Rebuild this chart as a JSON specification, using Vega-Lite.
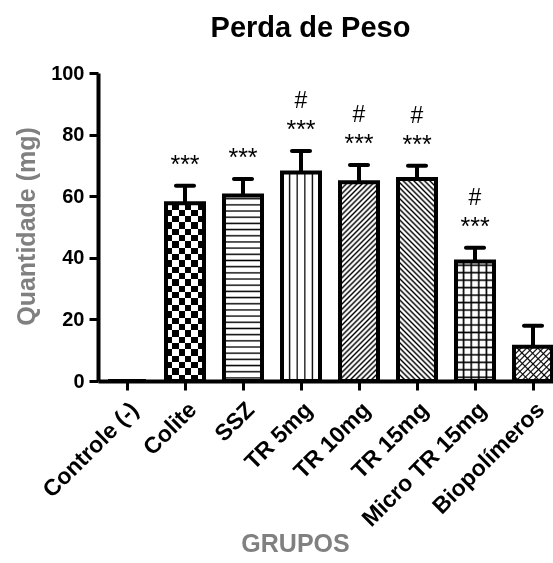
{
"$schema":"https://vega.github.io/schema/vega-lite/v6.json",
"width":455,"height":308,
"autosize":{"type":"none"},
"padding":{"left":98,"top":73,"right":0,"bottom":182},
"background":"#ffffff",
"title":{"text":"Perda de Peso","font":"Liberation Sans","fontSize":29,"fontWeight":"bold","color":"#000","frame":"group","anchor":"middle","dx":-15,"offset":20},
"data":{"values":[
{"group":"Controle (-)","value":0,"err":null,"stars":"","hash":""},
{"group":"Colite","value":57.7,"err":63.4,"stars":"***","hash":""},
{"group":"SSZ","value":60.2,"err":65.6,"stars":"***","hash":""},
{"group":"TR 5mg","value":67.7,"err":74.7,"stars":"***","hash":"#"},
{"group":"TR 10mg","value":64.5,"err":70.1,"stars":"***","hash":"#"},
{"group":"TR 15mg","value":65.6,"err":69.9,"stars":"***","hash":"#"},
{"group":"Micro TR 15mg","value":38.8,"err":43.3,"stars":"***","hash":"#"},
{"group":"Biopolímeros","value":11.1,"err":17.9,"stars":"","hash":""}
]},
"encoding":{
"x":{"field":"group","type":"nominal","sort":null,"title":"GRUPOS","scale":{"domain":["Controle (-)","Colite","SSZ","TR 5mg","TR 10mg","TR 15mg","Micro TR 15mg","Biopolímeros"],"paddingInner":0.345,"paddingOuter":0.0948,"align":0.91}},
"y":{"field":"value","type":"quantitative","title":"Quantidade (mg)","scale":{"domain":[0,100],"nice":false},"axis":{"values":[0,20,40,60,80,100]}}
},
"layer":[
{"transform":[{"filter":"datum.group==='Colite'"}],"mark":{"type":"bar","strokeWidth":0,"fill":{"gradient":"linear","x1":0,"y1":0,"x2":0,"y2":1,"stops":[{"offset":0,"color":"#000"},{"offset":0.0357,"color":"#000"},{"offset":0.0357,"color":"#fff"},{"offset":0.0714,"color":"#fff"},{"offset":0.0714,"color":"#000"},{"offset":0.1071,"color":"#000"},{"offset":0.1071,"color":"#fff"},{"offset":0.1429,"color":"#fff"},{"offset":0.1429,"color":"#000"},{"offset":0.1786,"color":"#000"},{"offset":0.1786,"color":"#fff"},{"offset":0.2143,"color":"#fff"},{"offset":0.2143,"color":"#000"},{"offset":0.25,"color":"#000"},{"offset":0.25,"color":"#fff"},{"offset":0.2857,"color":"#fff"},{"offset":0.2857,"color":"#000"},{"offset":0.3214,"color":"#000"},{"offset":0.3214,"color":"#fff"},{"offset":0.3571,"color":"#fff"},{"offset":0.3571,"color":"#000"},{"offset":0.3929,"color":"#000"},{"offset":0.3929,"color":"#fff"},{"offset":0.4286,"color":"#fff"},{"offset":0.4286,"color":"#000"},{"offset":0.4643,"color":"#000"},{"offset":0.4643,"color":"#fff"},{"offset":0.5,"color":"#fff"},{"offset":0.5,"color":"#000"},{"offset":0.5357,"color":"#000"},{"offset":0.5357,"color":"#fff"},{"offset":0.5714,"color":"#fff"},{"offset":0.5714,"color":"#000"},{"offset":0.6071,"color":"#000"},{"offset":0.6071,"color":"#fff"},{"offset":0.6429,"color":"#fff"},{"offset":0.6429,"color":"#000"},{"offset":0.6786,"color":"#000"},{"offset":0.6786,"color":"#fff"},{"offset":0.7143,"color":"#fff"},{"offset":0.7143,"color":"#000"},{"offset":0.75,"color":"#000"},{"offset":0.75,"color":"#fff"},{"offset":0.7857,"color":"#fff"},{"offset":0.7857,"color":"#000"},{"offset":0.8214,"color":"#000"},{"offset":0.8214,"color":"#fff"},{"offset":0.8571,"color":"#fff"},{"offset":0.8571,"color":"#000"},{"offset":0.8929,"color":"#000"},{"offset":0.8929,"color":"#fff"},{"offset":0.9286,"color":"#fff"},{"offset":0.9286,"color":"#000"},{"offset":0.9643,"color":"#000"},{"offset":0.9643,"color":"#fff"},{"offset":1,"color":"#fff"}]}}},
{"transform":[{"filter":"datum.group==='Colite'"}],"mark":{"type":"bar","strokeWidth":0,"blend":"difference","fill":{"gradient":"linear","x1":0,"y1":0,"x2":1,"y2":0,"stops":[{"offset":0,"color":"#fff"},{"offset":0.1667,"color":"#fff"},{"offset":0.1667,"color":"#000"},{"offset":0.3333,"color":"#000"},{"offset":0.3333,"color":"#fff"},{"offset":0.5,"color":"#fff"},{"offset":0.5,"color":"#000"},{"offset":0.6667,"color":"#000"},{"offset":0.6667,"color":"#fff"},{"offset":0.8333,"color":"#fff"},{"offset":0.8333,"color":"#000"},{"offset":1,"color":"#000"}]}}},
{"transform":[{"filter":"datum.group==='SSZ'"}],"mark":{"type":"bar","strokeWidth":0,"fill":{"gradient":"linear","x1":0,"y1":0,"x2":0,"y2":1,"stops":[{"offset":0.0091,"color":"#fff"},{"offset":0.0167,"color":"#000"},{"offset":0.0243,"color":"#fff"},{"offset":0.0424,"color":"#fff"},{"offset":0.05,"color":"#000"},{"offset":0.0576,"color":"#fff"},{"offset":0.0757,"color":"#fff"},{"offset":0.0833,"color":"#000"},{"offset":0.0909,"color":"#fff"},{"offset":0.1091,"color":"#fff"},{"offset":0.1167,"color":"#000"},{"offset":0.1243,"color":"#fff"},{"offset":0.1424,"color":"#fff"},{"offset":0.15,"color":"#000"},{"offset":0.1576,"color":"#fff"},{"offset":0.1757,"color":"#fff"},{"offset":0.1833,"color":"#000"},{"offset":0.1909,"color":"#fff"},{"offset":0.2091,"color":"#fff"},{"offset":0.2167,"color":"#000"},{"offset":0.2243,"color":"#fff"},{"offset":0.2424,"color":"#fff"},{"offset":0.25,"color":"#000"},{"offset":0.2576,"color":"#fff"},{"offset":0.2757,"color":"#fff"},{"offset":0.2833,"color":"#000"},{"offset":0.2909,"color":"#fff"},{"offset":0.3091,"color":"#fff"},{"offset":0.3167,"color":"#000"},{"offset":0.3243,"color":"#fff"},{"offset":0.3424,"color":"#fff"},{"offset":0.35,"color":"#000"},{"offset":0.3576,"color":"#fff"},{"offset":0.3757,"color":"#fff"},{"offset":0.3833,"color":"#000"},{"offset":0.3909,"color":"#fff"},{"offset":0.4091,"color":"#fff"},{"offset":0.4167,"color":"#000"},{"offset":0.4243,"color":"#fff"},{"offset":0.4424,"color":"#fff"},{"offset":0.45,"color":"#000"},{"offset":0.4576,"color":"#fff"},{"offset":0.4757,"color":"#fff"},{"offset":0.4833,"color":"#000"},{"offset":0.4909,"color":"#fff"},{"offset":0.5091,"color":"#fff"},{"offset":0.5167,"color":"#000"},{"offset":0.5243,"color":"#fff"},{"offset":0.5424,"color":"#fff"},{"offset":0.55,"color":"#000"},{"offset":0.5576,"color":"#fff"},{"offset":0.5757,"color":"#fff"},{"offset":0.5833,"color":"#000"},{"offset":0.5909,"color":"#fff"},{"offset":0.6091,"color":"#fff"},{"offset":0.6167,"color":"#000"},{"offset":0.6243,"color":"#fff"},{"offset":0.6424,"color":"#fff"},{"offset":0.65,"color":"#000"},{"offset":0.6576,"color":"#fff"},{"offset":0.6757,"color":"#fff"},{"offset":0.6833,"color":"#000"},{"offset":0.6909,"color":"#fff"},{"offset":0.7091,"color":"#fff"},{"offset":0.7167,"color":"#000"},{"offset":0.7243,"color":"#fff"},{"offset":0.7424,"color":"#fff"},{"offset":0.75,"color":"#000"},{"offset":0.7576,"color":"#fff"},{"offset":0.7757,"color":"#fff"},{"offset":0.7833,"color":"#000"},{"offset":0.7909,"color":"#fff"},{"offset":0.8091,"color":"#fff"},{"offset":0.8167,"color":"#000"},{"offset":0.8243,"color":"#fff"},{"offset":0.8424,"color":"#fff"},{"offset":0.85,"color":"#000"},{"offset":0.8576,"color":"#fff"},{"offset":0.8757,"color":"#fff"},{"offset":0.8833,"color":"#000"},{"offset":0.8909,"color":"#fff"},{"offset":0.9091,"color":"#fff"},{"offset":0.9167,"color":"#000"},{"offset":0.9243,"color":"#fff"},{"offset":0.9424,"color":"#fff"},{"offset":0.95,"color":"#000"},{"offset":0.9576,"color":"#fff"},{"offset":0.9757,"color":"#fff"},{"offset":0.9833,"color":"#000"},{"offset":0.9909,"color":"#fff"}]}}},
{"transform":[{"filter":"datum.group==='TR 5mg'"}],"mark":{"type":"bar","strokeWidth":0,"fill":{"gradient":"linear","x1":0,"y1":0,"x2":1,"y2":0,"stops":[{"offset":0.166,"color":"#fff"},{"offset":0.2,"color":"#000"},{"offset":0.234,"color":"#fff"},{"offset":0.366,"color":"#fff"},{"offset":0.4,"color":"#000"},{"offset":0.434,"color":"#fff"},{"offset":0.566,"color":"#fff"},{"offset":0.6,"color":"#000"},{"offset":0.634,"color":"#fff"},{"offset":0.766,"color":"#fff"},{"offset":0.8,"color":"#000"},{"offset":0.834,"color":"#fff"}]}}},
{"transform":[{"filter":"datum.group==='TR 10mg'"}],"mark":{"type":"bar","strokeWidth":0,"fill":{"gradient":"linear","x1":0,"y1":0,"x2":0.2198,"y2":1.1492,"stops":[{"offset":0.0026,"color":"#fff"},{"offset":0.0111,"color":"#000"},{"offset":0.0196,"color":"#fff"},{"offset":0.0248,"color":"#fff"},{"offset":0.0333,"color":"#000"},{"offset":0.0418,"color":"#fff"},{"offset":0.0471,"color":"#fff"},{"offset":0.0556,"color":"#000"},{"offset":0.0641,"color":"#fff"},{"offset":0.0693,"color":"#fff"},{"offset":0.0778,"color":"#000"},{"offset":0.0863,"color":"#fff"},{"offset":0.0915,"color":"#fff"},{"offset":0.1,"color":"#000"},{"offset":0.1085,"color":"#fff"},{"offset":0.1137,"color":"#fff"},{"offset":0.1222,"color":"#000"},{"offset":0.1307,"color":"#fff"},{"offset":0.1359,"color":"#fff"},{"offset":0.1444,"color":"#000"},{"offset":0.1529,"color":"#fff"},{"offset":0.1582,"color":"#fff"},{"offset":0.1667,"color":"#000"},{"offset":0.1752,"color":"#fff"},{"offset":0.1804,"color":"#fff"},{"offset":0.1889,"color":"#000"},{"offset":0.1974,"color":"#fff"},{"offset":0.2026,"color":"#fff"},{"offset":0.2111,"color":"#000"},{"offset":0.2196,"color":"#fff"},{"offset":0.2248,"color":"#fff"},{"offset":0.2333,"color":"#000"},{"offset":0.2418,"color":"#fff"},{"offset":0.2471,"color":"#fff"},{"offset":0.2556,"color":"#000"},{"offset":0.2641,"color":"#fff"},{"offset":0.2693,"color":"#fff"},{"offset":0.2778,"color":"#000"},{"offset":0.2863,"color":"#fff"},{"offset":0.2915,"color":"#fff"},{"offset":0.3,"color":"#000"},{"offset":0.3085,"color":"#fff"},{"offset":0.3137,"color":"#fff"},{"offset":0.3222,"color":"#000"},{"offset":0.3307,"color":"#fff"},{"offset":0.3359,"color":"#fff"},{"offset":0.3444,"color":"#000"},{"offset":0.3529,"color":"#fff"},{"offset":0.3582,"color":"#fff"},{"offset":0.3667,"color":"#000"},{"offset":0.3752,"color":"#fff"},{"offset":0.3804,"color":"#fff"},{"offset":0.3889,"color":"#000"},{"offset":0.3974,"color":"#fff"},{"offset":0.4026,"color":"#fff"},{"offset":0.4111,"color":"#000"},{"offset":0.4196,"color":"#fff"},{"offset":0.4248,"color":"#fff"},{"offset":0.4333,"color":"#000"},{"offset":0.4418,"color":"#fff"},{"offset":0.4471,"color":"#fff"},{"offset":0.4556,"color":"#000"},{"offset":0.4641,"color":"#fff"},{"offset":0.4693,"color":"#fff"},{"offset":0.4778,"color":"#000"},{"offset":0.4863,"color":"#fff"},{"offset":0.4915,"color":"#fff"},{"offset":0.5,"color":"#000"},{"offset":0.5085,"color":"#fff"},{"offset":0.5137,"color":"#fff"},{"offset":0.5222,"color":"#000"},{"offset":0.5307,"color":"#fff"},{"offset":0.5359,"color":"#fff"},{"offset":0.5444,"color":"#000"},{"offset":0.5529,"color":"#fff"},{"offset":0.5582,"color":"#fff"},{"offset":0.5667,"color":"#000"},{"offset":0.5752,"color":"#fff"},{"offset":0.5804,"color":"#fff"},{"offset":0.5889,"color":"#000"},{"offset":0.5974,"color":"#fff"},{"offset":0.6026,"color":"#fff"},{"offset":0.6111,"color":"#000"},{"offset":0.6196,"color":"#fff"},{"offset":0.6248,"color":"#fff"},{"offset":0.6333,"color":"#000"},{"offset":0.6418,"color":"#fff"},{"offset":0.6471,"color":"#fff"},{"offset":0.6556,"color":"#000"},{"offset":0.6641,"color":"#fff"},{"offset":0.6693,"color":"#fff"},{"offset":0.6778,"color":"#000"},{"offset":0.6863,"color":"#fff"},{"offset":0.6915,"color":"#fff"},{"offset":0.7,"color":"#000"},{"offset":0.7085,"color":"#fff"},{"offset":0.7137,"color":"#fff"},{"offset":0.7222,"color":"#000"},{"offset":0.7307,"color":"#fff"},{"offset":0.7359,"color":"#fff"},{"offset":0.7444,"color":"#000"},{"offset":0.7529,"color":"#fff"},{"offset":0.7582,"color":"#fff"},{"offset":0.7667,"color":"#000"},{"offset":0.7752,"color":"#fff"},{"offset":0.7804,"color":"#fff"},{"offset":0.7889,"color":"#000"},{"offset":0.7974,"color":"#fff"},{"offset":0.8026,"color":"#fff"},{"offset":0.8111,"color":"#000"},{"offset":0.8196,"color":"#fff"},{"offset":0.8248,"color":"#fff"},{"offset":0.8333,"color":"#000"},{"offset":0.8418,"color":"#fff"},{"offset":0.8471,"color":"#fff"},{"offset":0.8556,"color":"#000"},{"offset":0.8641,"color":"#fff"},{"offset":0.8693,"color":"#fff"},{"offset":0.8778,"color":"#000"},{"offset":0.8863,"color":"#fff"},{"offset":0.8915,"color":"#fff"},{"offset":0.9,"color":"#000"},{"offset":0.9085,"color":"#fff"},{"offset":0.9137,"color":"#fff"},{"offset":0.9222,"color":"#000"},{"offset":0.9307,"color":"#fff"},{"offset":0.9359,"color":"#fff"},{"offset":0.9444,"color":"#000"},{"offset":0.9529,"color":"#fff"},{"offset":0.9582,"color":"#fff"},{"offset":0.9667,"color":"#000"},{"offset":0.9752,"color":"#fff"},{"offset":0.9804,"color":"#fff"},{"offset":0.9889,"color":"#000"},{"offset":0.9974,"color":"#fff"}]}}},
{"transform":[{"filter":"datum.group==='TR 15mg'"}],"mark":{"type":"bar","strokeWidth":0,"fill":{"gradient":"linear","x1":0,"y1":1,"x2":0.2159,"y2":-0.1475,"stops":[{"offset":0.0026,"color":"#fff"},{"offset":0.0111,"color":"#000"},{"offset":0.0196,"color":"#fff"},{"offset":0.0248,"color":"#fff"},{"offset":0.0333,"color":"#000"},{"offset":0.0418,"color":"#fff"},{"offset":0.0471,"color":"#fff"},{"offset":0.0556,"color":"#000"},{"offset":0.0641,"color":"#fff"},{"offset":0.0693,"color":"#fff"},{"offset":0.0778,"color":"#000"},{"offset":0.0863,"color":"#fff"},{"offset":0.0915,"color":"#fff"},{"offset":0.1,"color":"#000"},{"offset":0.1085,"color":"#fff"},{"offset":0.1137,"color":"#fff"},{"offset":0.1222,"color":"#000"},{"offset":0.1307,"color":"#fff"},{"offset":0.1359,"color":"#fff"},{"offset":0.1444,"color":"#000"},{"offset":0.1529,"color":"#fff"},{"offset":0.1582,"color":"#fff"},{"offset":0.1667,"color":"#000"},{"offset":0.1752,"color":"#fff"},{"offset":0.1804,"color":"#fff"},{"offset":0.1889,"color":"#000"},{"offset":0.1974,"color":"#fff"},{"offset":0.2026,"color":"#fff"},{"offset":0.2111,"color":"#000"},{"offset":0.2196,"color":"#fff"},{"offset":0.2248,"color":"#fff"},{"offset":0.2333,"color":"#000"},{"offset":0.2418,"color":"#fff"},{"offset":0.2471,"color":"#fff"},{"offset":0.2556,"color":"#000"},{"offset":0.2641,"color":"#fff"},{"offset":0.2693,"color":"#fff"},{"offset":0.2778,"color":"#000"},{"offset":0.2863,"color":"#fff"},{"offset":0.2915,"color":"#fff"},{"offset":0.3,"color":"#000"},{"offset":0.3085,"color":"#fff"},{"offset":0.3137,"color":"#fff"},{"offset":0.3222,"color":"#000"},{"offset":0.3307,"color":"#fff"},{"offset":0.3359,"color":"#fff"},{"offset":0.3444,"color":"#000"},{"offset":0.3529,"color":"#fff"},{"offset":0.3582,"color":"#fff"},{"offset":0.3667,"color":"#000"},{"offset":0.3752,"color":"#fff"},{"offset":0.3804,"color":"#fff"},{"offset":0.3889,"color":"#000"},{"offset":0.3974,"color":"#fff"},{"offset":0.4026,"color":"#fff"},{"offset":0.4111,"color":"#000"},{"offset":0.4196,"color":"#fff"},{"offset":0.4248,"color":"#fff"},{"offset":0.4333,"color":"#000"},{"offset":0.4418,"color":"#fff"},{"offset":0.4471,"color":"#fff"},{"offset":0.4556,"color":"#000"},{"offset":0.4641,"color":"#fff"},{"offset":0.4693,"color":"#fff"},{"offset":0.4778,"color":"#000"},{"offset":0.4863,"color":"#fff"},{"offset":0.4915,"color":"#fff"},{"offset":0.5,"color":"#000"},{"offset":0.5085,"color":"#fff"},{"offset":0.5137,"color":"#fff"},{"offset":0.5222,"color":"#000"},{"offset":0.5307,"color":"#fff"},{"offset":0.5359,"color":"#fff"},{"offset":0.5444,"color":"#000"},{"offset":0.5529,"color":"#fff"},{"offset":0.5582,"color":"#fff"},{"offset":0.5667,"color":"#000"},{"offset":0.5752,"color":"#fff"},{"offset":0.5804,"color":"#fff"},{"offset":0.5889,"color":"#000"},{"offset":0.5974,"color":"#fff"},{"offset":0.6026,"color":"#fff"},{"offset":0.6111,"color":"#000"},{"offset":0.6196,"color":"#fff"},{"offset":0.6248,"color":"#fff"},{"offset":0.6333,"color":"#000"},{"offset":0.6418,"color":"#fff"},{"offset":0.6471,"color":"#fff"},{"offset":0.6556,"color":"#000"},{"offset":0.6641,"color":"#fff"},{"offset":0.6693,"color":"#fff"},{"offset":0.6778,"color":"#000"},{"offset":0.6863,"color":"#fff"},{"offset":0.6915,"color":"#fff"},{"offset":0.7,"color":"#000"},{"offset":0.7085,"color":"#fff"},{"offset":0.7137,"color":"#fff"},{"offset":0.7222,"color":"#000"},{"offset":0.7307,"color":"#fff"},{"offset":0.7359,"color":"#fff"},{"offset":0.7444,"color":"#000"},{"offset":0.7529,"color":"#fff"},{"offset":0.7582,"color":"#fff"},{"offset":0.7667,"color":"#000"},{"offset":0.7752,"color":"#fff"},{"offset":0.7804,"color":"#fff"},{"offset":0.7889,"color":"#000"},{"offset":0.7974,"color":"#fff"},{"offset":0.8026,"color":"#fff"},{"offset":0.8111,"color":"#000"},{"offset":0.8196,"color":"#fff"},{"offset":0.8248,"color":"#fff"},{"offset":0.8333,"color":"#000"},{"offset":0.8418,"color":"#fff"},{"offset":0.8471,"color":"#fff"},{"offset":0.8556,"color":"#000"},{"offset":0.8641,"color":"#fff"},{"offset":0.8693,"color":"#fff"},{"offset":0.8778,"color":"#000"},{"offset":0.8863,"color":"#fff"},{"offset":0.8915,"color":"#fff"},{"offset":0.9,"color":"#000"},{"offset":0.9085,"color":"#fff"},{"offset":0.9137,"color":"#fff"},{"offset":0.9222,"color":"#000"},{"offset":0.9307,"color":"#fff"},{"offset":0.9359,"color":"#fff"},{"offset":0.9444,"color":"#000"},{"offset":0.9529,"color":"#fff"},{"offset":0.9582,"color":"#fff"},{"offset":0.9667,"color":"#000"},{"offset":0.9752,"color":"#fff"},{"offset":0.9804,"color":"#fff"},{"offset":0.9889,"color":"#000"},{"offset":0.9974,"color":"#fff"}]}}},
{"transform":[{"filter":"datum.group==='Micro TR 15mg'"}],"mark":{"type":"bar","strokeWidth":0,"fill":{"gradient":"linear","x1":0,"y1":0,"x2":0,"y2":1,"stops":[{"offset":0.0179,"color":"#fff"},{"offset":0.0313,"color":"#000"},{"offset":0.0447,"color":"#fff"},{"offset":0.0804,"color":"#fff"},{"offset":0.0938,"color":"#000"},{"offset":0.1072,"color":"#fff"},{"offset":0.1429,"color":"#fff"},{"offset":0.1563,"color":"#000"},{"offset":0.1697,"color":"#fff"},{"offset":0.2054,"color":"#fff"},{"offset":0.2188,"color":"#000"},{"offset":0.2322,"color":"#fff"},{"offset":0.2679,"color":"#fff"},{"offset":0.2813,"color":"#000"},{"offset":0.2947,"color":"#fff"},{"offset":0.3304,"color":"#fff"},{"offset":0.3438,"color":"#000"},{"offset":0.3572,"color":"#fff"},{"offset":0.3929,"color":"#fff"},{"offset":0.4063,"color":"#000"},{"offset":0.4197,"color":"#fff"},{"offset":0.4554,"color":"#fff"},{"offset":0.4688,"color":"#000"},{"offset":0.4822,"color":"#fff"},{"offset":0.5179,"color":"#fff"},{"offset":0.5313,"color":"#000"},{"offset":0.5447,"color":"#fff"},{"offset":0.5804,"color":"#fff"},{"offset":0.5938,"color":"#000"},{"offset":0.6072,"color":"#fff"},{"offset":0.6429,"color":"#fff"},{"offset":0.6563,"color":"#000"},{"offset":0.6697,"color":"#fff"},{"offset":0.7054,"color":"#fff"},{"offset":0.7188,"color":"#000"},{"offset":0.7322,"color":"#fff"},{"offset":0.7679,"color":"#fff"},{"offset":0.7813,"color":"#000"},{"offset":0.7947,"color":"#fff"},{"offset":0.8304,"color":"#fff"},{"offset":0.8438,"color":"#000"},{"offset":0.8572,"color":"#fff"},{"offset":0.8929,"color":"#fff"},{"offset":0.9063,"color":"#000"},{"offset":0.9197,"color":"#fff"},{"offset":0.9554,"color":"#fff"},{"offset":0.9688,"color":"#000"},{"offset":0.9822,"color":"#fff"}]}}},
{"transform":[{"filter":"datum.group==='Micro TR 15mg'"}],"mark":{"type":"bar","strokeWidth":0,"blend":"multiply","fill":{"gradient":"linear","x1":0,"y1":0,"x2":1,"y2":0,"stops":[{"offset":0.158,"color":"#fff"},{"offset":0.2,"color":"#000"},{"offset":0.242,"color":"#fff"},{"offset":0.358,"color":"#fff"},{"offset":0.4,"color":"#000"},{"offset":0.442,"color":"#fff"},{"offset":0.558,"color":"#fff"},{"offset":0.6,"color":"#000"},{"offset":0.642,"color":"#fff"},{"offset":0.758,"color":"#fff"},{"offset":0.8,"color":"#000"},{"offset":0.842,"color":"#fff"}]}}},
{"transform":[{"filter":"datum.group==='Biopolímeros'"}],"mark":{"type":"bar","strokeWidth":0,"fill":{"gradient":"linear","x1":0,"y1":0,"x2":1.0497,"y2":0.9447,"stops":[{"offset":0.0165,"color":"#fff"},{"offset":0.0385,"color":"#000"},{"offset":0.0605,"color":"#fff"},{"offset":0.0934,"color":"#fff"},{"offset":0.1154,"color":"#000"},{"offset":0.1374,"color":"#fff"},{"offset":0.1703,"color":"#fff"},{"offset":0.1923,"color":"#000"},{"offset":0.2143,"color":"#fff"},{"offset":0.2472,"color":"#fff"},{"offset":0.2692,"color":"#000"},{"offset":0.2912,"color":"#fff"},{"offset":0.3242,"color":"#fff"},{"offset":0.3462,"color":"#000"},{"offset":0.3682,"color":"#fff"},{"offset":0.4011,"color":"#fff"},{"offset":0.4231,"color":"#000"},{"offset":0.4451,"color":"#fff"},{"offset":0.478,"color":"#fff"},{"offset":0.5,"color":"#000"},{"offset":0.522,"color":"#fff"},{"offset":0.5549,"color":"#fff"},{"offset":0.5769,"color":"#000"},{"offset":0.5989,"color":"#fff"},{"offset":0.6318,"color":"#fff"},{"offset":0.6538,"color":"#000"},{"offset":0.6758,"color":"#fff"},{"offset":0.7088,"color":"#fff"},{"offset":0.7308,"color":"#000"},{"offset":0.7528,"color":"#fff"},{"offset":0.7857,"color":"#fff"},{"offset":0.8077,"color":"#000"},{"offset":0.8297,"color":"#fff"},{"offset":0.8626,"color":"#fff"},{"offset":0.8846,"color":"#000"},{"offset":0.9066,"color":"#fff"},{"offset":0.9395,"color":"#fff"},{"offset":0.9615,"color":"#000"},{"offset":0.9835,"color":"#fff"}]}}},
{"transform":[{"filter":"datum.group==='Biopolímeros'"}],"mark":{"type":"bar","strokeWidth":0,"blend":"multiply","fill":{"gradient":"linear","x1":0,"y1":1,"x2":1.0497,"y2":0.0553,"stops":[{"offset":0.0494,"color":"#fff"},{"offset":0.0714,"color":"#000"},{"offset":0.0934,"color":"#fff"},{"offset":0.1923,"color":"#fff"},{"offset":0.2143,"color":"#000"},{"offset":0.2363,"color":"#fff"},{"offset":0.3351,"color":"#fff"},{"offset":0.3571,"color":"#000"},{"offset":0.3791,"color":"#fff"},{"offset":0.478,"color":"#fff"},{"offset":0.5,"color":"#000"},{"offset":0.522,"color":"#fff"},{"offset":0.6209,"color":"#fff"},{"offset":0.6429,"color":"#000"},{"offset":0.6649,"color":"#fff"},{"offset":0.7637,"color":"#fff"},{"offset":0.7857,"color":"#000"},{"offset":0.8077,"color":"#fff"},{"offset":0.9066,"color":"#fff"},{"offset":0.9286,"color":"#000"},{"offset":0.9506,"color":"#fff"}]}}},
{"mark":{"type":"bar","fillOpacity":0,"fill":"#fff","stroke":"#000","strokeWidth":4}},
{"mark":{"type":"rule","stroke":"#000","strokeWidth":4},"encoding":{"y2":{"field":"err"}}},
{"mark":{"type":"tick","color":"#000","size":22,"thickness":4,"cornerRadius":2,"opacity":1},"encoding":{"y":{"field":"err","type":"quantitative","title":"Quantidade (mg)"}}},
{"mark":{"type":"text","font":"Liberation Sans","fontSize":25,"baseline":"alphabetic","dy":-13,"fill":"#000"},"encoding":{"y":{"field":"err","type":"quantitative","title":"Quantidade (mg)"},"text":{"field":"stars"}}},
{"mark":{"type":"text","font":"Liberation Sans","fontSize":23,"baseline":"alphabetic","dy":-43,"fill":"#000"},"encoding":{"y":{"field":"err","type":"quantitative","title":"Quantidade (mg)"},"text":{"field":"hash"}}}
],
"config":{
"view":{"stroke":null},
"axis":{"grid":false,"domainColor":"#000","domainWidth":4,"tickColor":"#000","tickWidth":3,"tickSize":9,"labelColor":"#000","labelFont":"Liberation Sans","labelFontWeight":"bold","titleFont":"Liberation Sans","titleFontWeight":"bold","titleFontSize":25,"titleColor":"#808080"},
"axisX":{"labelAngle":-45,"labelAlign":"right","labelBaseline":"top","labelPadding":8,"labelFontSize":23,"labelOverlap":false,"labelLimit":300,"titleX":197,"titleY":162,"titleBaseline":"middle","titleAlign":"center"},
"axisY":{"labelFontSize":20,"labelPadding":5,"titleAngle":-90,"titleX":-72,"titleY":153,"titleBaseline":"middle","titleAlign":"center"}
}
}
